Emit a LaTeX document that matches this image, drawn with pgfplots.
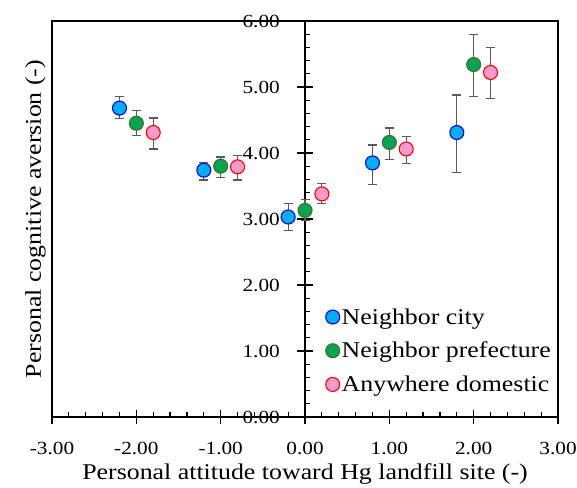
\documentclass[border=0pt]{standalone}
\usepackage{pgfplots}
\pgfplotsset{compat=1.18}
\usepackage{pgfplotstable}
\usepackage{fontspec}
\setmainfont{Liberation Serif}[FakeStretch=1.15]
\definecolor{cblue}{RGB}{0,176,240}
\definecolor{eblue}{RGB}{0,0,255}
\definecolor{cgreen}{RGB}{0,166,81}
\definecolor{egreen}{RGB}{70,110,40}
\definecolor{cpink}{RGB}{255,153,204}
\definecolor{epink}{RGB}{255,0,0}
\definecolor{ebar}{RGB}{90,90,90}
\pgfplotstableread{
x y ep em
-2.2 4.68 0.17 0.16
-1.2 3.74 0.12 0.15
-0.2 3.03 0.20 0.20
0.8 3.85 0.27 0.33
1.8 4.31 0.57 0.60
}\city
\pgfplotstableread{
x y ep em
-2.0 4.45 0.19 0.19
-1.0 3.80 0.14 0.17
0.0 3.13 0.16 0.15
1.0 4.16 0.22 0.26
2.0 5.34 0.45 0.48
}\pref
\pgfplotstableread{
x y ep em
-1.8 4.31 0.22 0.25
-0.8 3.79 0.17 0.20
0.2 3.38 0.16 0.15
1.2 4.06 0.19 0.22
2.2 5.22 0.38 0.40
}\dom
\pgfplotsset{myerr/.style={error bars/.cd, y dir=both, y explicit,
  error bar style={line width=1.2bp, color=ebar},
  error mark options={rotate=90, mark size=4.5bp, line width=1.2bp, color=ebar}},
  mytl/.style={/pgf/number format/assume math mode=true,
  tick label style={font=\fontsize{18.5bp}{20bp}\selectfont, inner sep=0pt,
    /pgf/number format/fixed, /pgf/number format/fixed zerofill, /pgf/number format/precision=2}},
  tk/.style={tick align=inside, every tick/.append style={line width=1.2bp, black}}}
\begin{document}
\begin{tikzpicture}
% left half of the major y ticks (pointing left from x = 0)
\begin{axis}[
  at={(0bp,0bp)}, anchor=south west,
  scale only axis, width=253bp, height=396bp,
  xmin=-3, xmax=0, ymin=0, ymax=6,
  axis x line=none, axis y line=right,
  axis line style={-, line width=1.1bp, black},
  ytick={0,1,2,3,4,5,6}, yticklabels={}, minor tick num=0,
  tk, major tick length=8bp,
]
\end{axis}
% lower half of the major x ticks (pointing down from y = 0)
\begin{axis}[
  at={(0bp,-30bp)}, anchor=south west,
  scale only axis, width=506bp, height=30bp,
  xmin=-3, xmax=3, ymin=0, ymax=1,
  axis y line=none, axis x line=top,
  axis line style={-, line width=1.1bp, black},
  xtick={-3,-2,-1,0,1,2,3}, xticklabels={}, minor tick num=0,
  tk, major tick length=7bp,
]
\end{axis}
% y axis drawn at x = 0
\begin{axis}[
  at={(253bp,0bp)}, anchor=south west,
  scale only axis, width=253bp, height=396bp,
  xmin=0, xmax=3, ymin=0, ymax=6,
  axis x line=none, axis y line=left,
  axis line style={-, line width=1.1bp, black},
  ytick={0,1,2,3,4,5,6},
  minor tick num=0,
  tk, major tick length=8bp,
  extra y ticks={0.2,0.4,0.6,0.8,1.2,1.4,1.6,1.8,2.2,2.4,2.6,2.8,3.2,3.4,3.6,3.8,4.2,4.4,4.6,4.8,5.2,5.4,5.6,5.8},
  extra y tick labels={},
  extra y tick style={tick align=inside, major tick length=5bp},
  mytl,
  yticklabel style={anchor=east, xshift=-25bp},
  clip=false,
]
\end{axis}
\begin{axis}[
  name=ax,
  scale only axis, width=506bp, height=396bp,
  xmin=-3, xmax=3, ymin=0, ymax=6,
  axis line style={line width=1.1bp, black},
  xtick={-3,-2,-1,0,1,2,3}, ytick=\empty,
  xtick pos=bottom, hide obscured x ticks=false,
  minor tick num=0,
  tk, major tick length=7bp,
  extra x ticks={-2.8,-2.6,-2.4,-2.2,-1.8,-1.6,-1.4,-1.2,-0.8,-0.6,-0.4,-0.2,0.2,0.4,0.6,0.8,1.2,1.4,1.6,1.8,2.2,2.4,2.6,2.8},
  extra x tick labels={},
  extra x tick style={tick align=inside, major tick length=5bp},
  mytl,
  xticklabel style={anchor=north, yshift=-25bp},
  every axis x label/.style={at={(axis description cs:0.5,-0.118)}, anchor=north, inner sep=0pt, font=\fontsize{22.5bp}{24bp}\selectfont},
  every axis y label/.style={at={(axis description cs:-0.012,0.5)}, anchor=south, rotate=90, inner sep=0pt, font=\fontsize{22.5bp}{24bp}\selectfont},
  xlabel={Personal attitude toward Hg landfill site (-)},
  ylabel={Personal cognitive aversion (-)},
  legend style={draw=none, fill=none, at={(rel axis cs:0.99,0.055)}, anchor=south east,
    font=\fontsize{22.5bp}{24bp}\selectfont, row sep=12.5bp, inner sep=0pt, nodes={inner sep=2bp}},
  legend cell align=left,
  legend image code/.code={\draw[#1] plot coordinates {(0bp,0bp)};},
  clip=false,
]
\addplot[only marks, mark=*, mark size=7bp, mark options={fill=cblue, draw=eblue, line width=1.1bp}, myerr]
  table[x=x, y=y, y error plus=ep, y error minus=em] {\city};
\addlegendentry{Neighbor city}
\addplot[only marks, mark=*, mark size=7bp, mark options={fill=cgreen, draw=egreen, line width=1.1bp}, myerr]
  table[x=x, y=y, y error plus=ep, y error minus=em] {\pref};
\addlegendentry{Neighbor prefecture}
\addplot[only marks, mark=*, mark size=7bp, mark options={fill=cpink, draw=epink, line width=1.1bp}, myerr]
  table[x=x, y=y, y error plus=ep, y error minus=em] {\dom};
\addlegendentry{Anywhere domestic}
\coordinate (bl) at (rel axis cs:-0.1028,-0.1793);
\coordinate (tr) at (rel axis cs:1.0375,1.053);
\end{axis}
\pgfresetboundingbox
\path[use as bounding box] (bl) rectangle (tr);
\end{tikzpicture}
\end{document}
